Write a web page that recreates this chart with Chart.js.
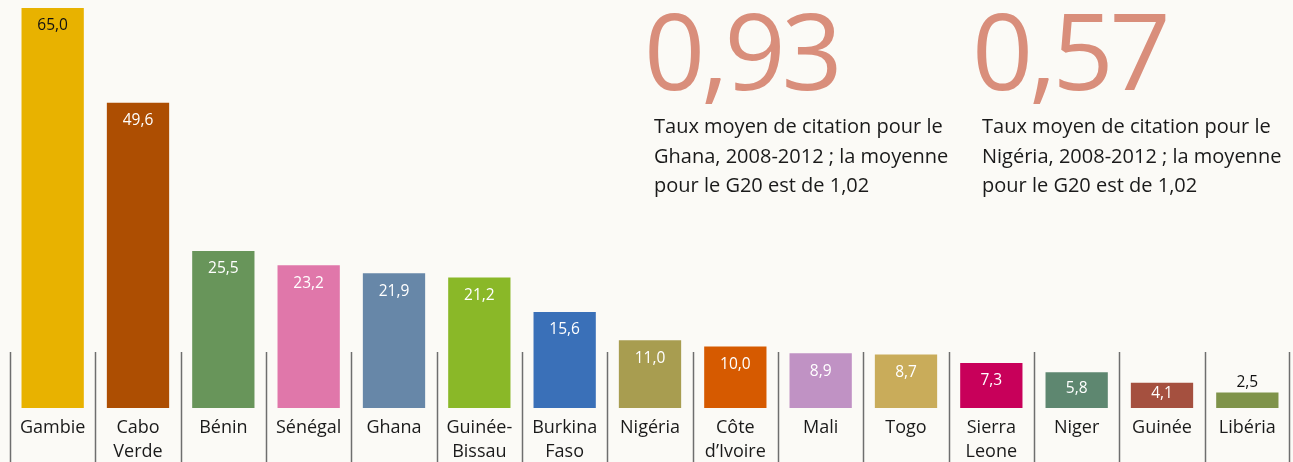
<!DOCTYPE html>
<html><head><meta charset="utf-8">
<script src="https://cdn.jsdelivr.net/npm/chart.js@4"></script>
<style>
html,body{margin:0;padding:0;background:#fbfaf6;}
#wrap{position:relative;width:1293px;height:462px;overflow:hidden;}
canvas{position:absolute;left:0;top:0;}
.big{position:absolute;top:-15px;font-family:"Open Sans",sans-serif;font-weight:400;font-size:107px;color:#d98e7b;letter-spacing:-4.2px;line-height:1.2;}
.note{position:absolute;top:111px;font-family:"Open Sans",sans-serif;font-size:20px;line-height:29.5px;color:#1a1a1a;}
</style></head>
<body><div id="wrap"><canvas id="c" width="1293" height="462"></canvas>
<div class="big" style="left:644px">0,93</div>
<div class="big" style="left:972px">0,57</div>
<div class="note" style="left:654px">Taux moyen de citation pour le<br>Ghana, 2008-2012 ; la moyenne<br>pour le G20 est de 1,02</div>
<div class="note" style="left:982px">Taux moyen de citation pour le<br>Nigéria, 2008-2012 ; la moyenne<br>pour le G20 est de 1,02</div>
</div>
<script>
const categories = [["Gambie"],["Cabo","Verde"],["Bénin"],["Sénégal"],["Ghana"],["Guinée-","Bissau"],["Burkina","Faso"],["Nigéria"],["Côte","d’Ivoire"],["Mali"],["Togo"],["Sierra","Leone"],["Niger"],["Guinée"],["Libéria"]];
const values = [65.0,49.6,25.5,23.2,21.9,21.2,15.6,11.0,10.0,8.9,8.7,7.3,5.8,4.1,2.5];
const colors = ["#e8b200","#ad4e02","#68955a","#e077aa","#6787a8","#8ab828","#3a70b8","#a89d50","#d65a00","#c092c4","#c9ac5a","#c8005a","#5e8770","#a5503f","#7f934a"];
const labelColors = ["#111","#fff","#fff","#fff","#fff","#fff","#fff","#fff","#fff","#fff","#fff","#fff","#fff","#fff","#111"];

const valuePlugin = {
  id:'values',
  afterDatasetsDraw(chart){
    const ctx = chart.ctx;
    const meta = chart.getDatasetMeta(0);
    ctx.save();
    ctx.font = '15.5px "Open Sans", sans-serif';
    ctx.textAlign = 'center';
    ctx.textBaseline = 'middle';
    meta.data.forEach((bar,i)=>{
      const txt = values[i].toFixed(1).replace('.',',');
      const h = bar.base - bar.y;
      let y;
      if (h < 24) { y = bar.y - 10; }
      else { y = Math.min(bar.y + 18, (bar.y + bar.base)/2 - 2); }
      ctx.fillStyle = labelColors[i];
      ctx.fillText(txt, bar.x, y);
    });
    ctx.restore();
  }
};
const sepPlugin = {
  id:'seps',
  afterDraw(chart){
    const ctx = chart.ctx, xs = chart.scales.x;
    const n = categories.length;
    const step = xs.getPixelForValue(1)-xs.getPixelForValue(0);
    ctx.save();
    ctx.strokeStyle = '#6e6e6e';
    ctx.lineWidth = 1.5;
    for (let i=0;i<=n;i++){
      let x = xs.getPixelForValue(0) - step/2 + i*step;
      if (i===n) x -= 1;
      ctx.beginPath();
      ctx.moveTo(Math.round(x)+0.5, 352);
      ctx.lineTo(Math.round(x)+0.5, 462);
      ctx.stroke();
    }
    ctx.restore();
  }
};

new Chart(document.getElementById('c'),{
  type:'bar',
  data:{labels:categories,datasets:[{data:values,backgroundColor:colors,barPercentage:0.73,categoryPercentage:1.0}]},
  options:{
    responsive:false,animation:false,
    layout:{padding:{top:8,left:10,right:3,bottom:0}},
    plugins:{legend:{display:false},tooltip:{enabled:false}},
    scales:{
      x:{grid:{display:false,drawTicks:false},border:{display:false},
         afterFit(s){ s.height = 54; },
         ticks:{color:'#1a1a1a',padding:8,font:{family:'"Open Sans", sans-serif',size:18,lineHeight:1.33},maxRotation:0,autoSkip:false}},
      y:{display:false,min:0,max:65}
    }
  },
  plugins:[valuePlugin,sepPlugin]
});
</script></body></html>
